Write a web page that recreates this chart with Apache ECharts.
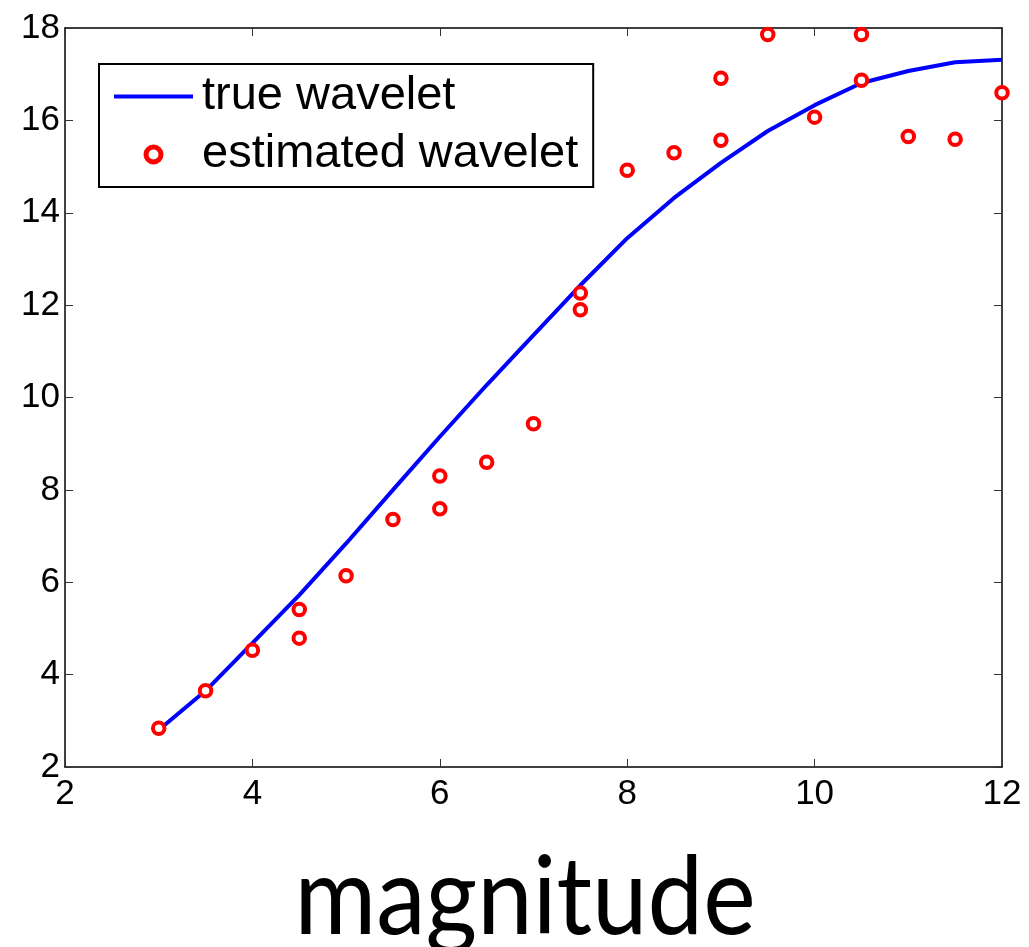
<!DOCTYPE html>
<html>
<head>
<meta charset="utf-8">
<script src="https://cdn.jsdelivr.net/npm/echarts@6/dist/echarts.min.js"></script>
<style>
html,body{margin:0;padding:0;background:#fff;}
#chart{width:1029px;height:947px;}
</style>
</head>
<body>
<div id="chart"></div>
<script>
// True wavelet curve
const trueX = [3, 3.5, 4, 4.5, 5, 5.5, 6, 6.5, 7, 7.5, 8, 8.5, 9, 9.5, 10, 10.5, 11, 11.5, 12];
const trueY = [2.80, 3.65, 4.68, 5.72, 6.84, 8.00, 9.15, 10.27, 11.35, 12.43, 13.45, 14.32, 15.08, 15.77, 16.33, 16.81, 17.07, 17.26, 17.31];
// Estimated wavelet points
const estX = [3, 3.5, 4, 4.5, 4.5, 5, 5.5, 6, 6, 6.5, 7, 7.5, 7.5, 8, 8.5, 9, 9, 9.5, 10, 10.5, 10.5, 11, 11.5, 12];
const estY = [2.84, 3.65, 4.53, 5.41, 4.79, 6.14, 7.36, 8.30, 7.59, 8.60, 9.43, 12.26, 11.90, 14.92, 15.30, 16.91, 15.57, 17.86, 16.07, 17.86, 16.87, 15.65, 15.59, 16.60];
const xTicks = [2, 4, 6, 8, 10, 12];
const yTicks = [2, 4, 6, 8, 10, 12, 14, 16, 18];
const seriesNames = ['true wavelet', 'estimated wavelet'];
const xLabel = 'magnitude';

const chart = echarts.init(document.getElementById('chart'), null, {renderer: 'canvas'});
const FONT = 'Liberation Sans, Arial, Helvetica, sans-serif';

function axisCommon(showLabel, position) {
  return {
    position: position,
    axisLine: {show: true, onZero: false, lineStyle: {color: '#000', width: 1.5}},
    axisTick: {show: true, inside: true, length: 8, lineStyle: {color: '#333', width: 1}},
    axisLabel: {show: showLabel, color: '#000', fontSize: 35, fontFamily: FONT, showMinLabel: true, showMaxLabel: true},
    splitLine: {show: false}
  };
}
const xMin = xTicks[0], xMax = xTicks[xTicks.length - 1], xInt = xTicks[1] - xTicks[0];
const yMin = yTicks[0], yMax = yTicks[yTicks.length - 1], yInt = yTicks[1] - yTicks[0];

const option = {
  animation: false,
  backgroundColor: '#fff',
  grid: {left: 65, right: 27, top: 28, bottom: 180, containLabel: false, outerBoundsMode: 'none'},
  xAxis: [
    Object.assign({type: 'value', min: xMin, max: xMax, interval: xInt}, axisCommon(true, 'bottom'),
      {axisLabel: {show: true, color: '#000', fontSize: 35, fontFamily: FONT, margin: 10, showMinLabel: true, showMaxLabel: true}}),
    Object.assign({type: 'value', min: xMin, max: xMax, interval: xInt}, axisCommon(false, 'top'))
  ],
  yAxis: [
    Object.assign({type: 'value', min: yMin, max: yMax, interval: yInt}, axisCommon(true, 'left'),
      {axisLabel: {show: true, color: '#000', fontSize: 35, fontFamily: FONT, margin: 5, showMinLabel: true, showMaxLabel: true}}),
    Object.assign({type: 'value', min: yMin, max: yMax, interval: yInt}, axisCommon(false, 'right'))
  ],
  legend: {
    left: 99, top: 64,
    orient: 'vertical',
    backgroundColor: '#fff',
    borderColor: '#000',
    borderWidth: 2,
    borderRadius: 0,
    padding: [9, 15, 9, 15],
    itemGap: 11,
    itemWidth: 79,
    itemHeight: 15,
    symbolKeepAspect: true,
    textStyle: {color: '#000', fontSize: 47, fontFamily: FONT, padding: [0, 0, 0, 4]},
    data: [
      {name: seriesNames[0], icon: 'path://M0,0H79V4H0Z', itemStyle: {color: '#0000ff', borderWidth: 0}},
      {name: seriesNames[1], itemStyle: {borderWidth: 5}}
    ]
  },
  series: [
    {
      name: seriesNames[0],
      type: 'line',
      xAxisIndex: 0, yAxisIndex: 0,
      data: trueX.map((x, i) => [x, trueY[i]]),
      symbol: 'none',
      showSymbol: false,
      lineStyle: {color: '#0000ff', width: 4},
      itemStyle: {color: '#0000ff'},
      z: 2
    },
    {
      name: seriesNames[1],
      type: 'scatter',
      xAxisIndex: 0, yAxisIndex: 0,
      data: estX.map((x, i) => [x, estY[i]]),
      symbol: 'circle',
      symbolSize: 11.5,
      clip: false,
      itemStyle: {color: '#fff', borderColor: '#ff0000', borderWidth: 4, opacity: 1},
      z: 3
    }
  ],
  graphic: [
    {
      type: 'text',
      x: 525, y: 899,
      scaleX: 0.92,
      style: {
        text: xLabel,
        fill: '#000',
        font: '108px Lato, "Open Sans", sans-serif',
        textAlign: 'center',
        textVerticalAlign: 'middle',
        verticalAlign: 'middle'
      }
    }
  ]
};
chart.setOption(option);
</script>
</body>
</html>
